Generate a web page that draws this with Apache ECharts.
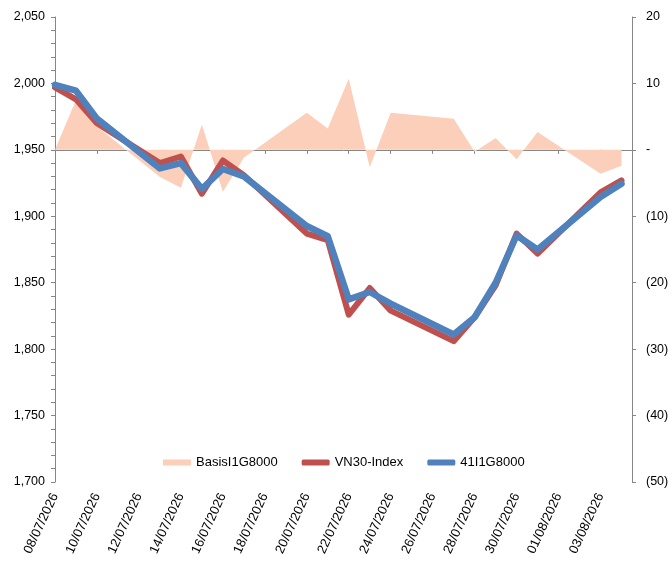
<!DOCTYPE html>
<html>
<head>
<meta charset="utf-8">
<script src="https://cdn.jsdelivr.net/npm/echarts@6/dist/echarts.min.js"></script>
<style>
  html, body { margin: 0; padding: 0; background: #fff; }
  #chart { width: 672px; height: 562px; }
</style>
</head>
<body>
<div id="chart"></div>
<script>
// trading days shown on the chart
var dates = ['08/07/2026', '09/07/2026', '10/07/2026', '13/07/2026', '14/07/2026',
  '15/07/2026', '16/07/2026', '17/07/2026', '20/07/2026', '21/07/2026',
  '22/07/2026', '23/07/2026', '24/07/2026', '27/07/2026', '28/07/2026',
  '29/07/2026', '30/07/2026', '31/07/2026', '03/08/2026', '04/08/2026']

// basis (right axis)
var basis = [0, 7.5, 3.5, -4.1, -5.7, 3.8, -6.3, -1.2, 5.6, 3.2,
  10.7, -2.6, 5.6, 4.7, -0.3, 1.8, -1.4, 2.7, -3.6, -2.4]

// VN30-Index (left axis)
var vn30 = [1997, 1988, 1970, 1940, 1945, 1917, 1942, 1931, 1887, 1882,
  1826, 1846, 1829, 1806, 1824, 1848, 1887, 1872, 1918, 1927]

// 41I1G8000 (left axis)
var future = [1999, 1994.5, 1973.5, 1936, 1940, 1920.6, 1935.6, 1930, 1892.7, 1885,
  1837.5, 1843, 1834.3, 1811, 1824, 1850, 1885.5, 1875, 1914.5, 1924.5]

var seriesNames = ['BasisI1G8000', 'VN30-Index', '41I1G8000']
var startDate = '08/07/2026'
var dayMs = 86400000

function toUtc (s) {
  var p = s.split('/')
  return Date.UTC(+p[2], +p[1] - 1, +p[0])
}
function dayOffset (s) {
  return Math.round((toUtc(s) - toUtc(startDate)) / dayMs)
}
function pad (n) { return n < 10 ? '0' + n : '' + n }
function dayLabel (v) {
  if (v !== Math.round(v) || v % 2 !== 0) return ''
  var d = new Date(toUtc(startDate) + v * dayMs)
  return pad(d.getUTCDate()) + '/' + pad(d.getUTCMonth() + 1) + '/' + d.getUTCFullYear()
}
function pairs (vals) {
  return dates.map(function (d, i) { return [dayOffset(d), vals[i]] })
}

var font = 'Liberation Sans, Arial, sans-serif'
var axisGray = '#868686'

var chart = echarts.init(document.getElementById('chart'))
chart.setOption({
  animation: false,
  textStyle: { fontFamily: font },
  grid: { left: 55, right: 40, top: 17, bottom: 80 },
  legend: {
    left: 163,
    top: 456,
    padding: 0,
    itemWidth: 28,
    itemHeight: 6,
    itemGap: 24,
    textStyle: { fontSize: 13, color: '#000', fontFamily: font },
    data: [
      { name: seriesNames[0], icon: 'rect', itemStyle: { color: '#FBCFB9' } },
      { name: seriesNames[1], icon: 'roundRect', itemStyle: { color: '#C0504D' } },
      { name: seriesNames[2], icon: 'roundRect', itemStyle: { color: '#4F81BD' } }
    ]
  },
  xAxis: {
    type: 'value',
    min: 0,
    max: 27.5,
    interval: 2,
    splitLine: { show: false },
    axisLine: { show: true, lineStyle: { color: axisGray } },
    axisTick: { show: true, length: 4, lineStyle: { color: axisGray } },
    axisLabel: {
      rotate: 65,
      margin: 12,
      fontSize: 13,
      color: '#000',
      showMaxLabel: false,
      formatter: dayLabel
    }
  },
  yAxis: [
    {
      type: 'value',
      min: 1700,
      max: 2050,
      interval: 50,
      splitLine: { show: false },
      axisLine: { show: true, lineStyle: { color: axisGray } },
      axisTick: { show: true, length: 4, lineStyle: { color: axisGray } },
      minorTick: { show: true, splitNumber: 5, length: 4, lineStyle: { color: axisGray } },
      axisLabel: {
        fontSize: 12.5,
        color: '#000',
        margin: 10,
        formatter: function (v) { return v.toLocaleString('en-US') }
      }
    },
    {
      type: 'value',
      min: -50,
      max: 20,
      interval: 10,
      position: 'right',
      splitLine: { show: false },
      axisLine: { show: true, lineStyle: { color: axisGray } },
      axisTick: { show: true, length: 4, lineStyle: { color: axisGray } },
      axisLabel: {
        fontSize: 12.5,
        color: '#000',
        margin: 14,
        formatter: function (v) {
          if (v === 0) return '-'
          return v < 0 ? '(' + (-v) + ')' : '' + v
        }
      }
    }
  ],
  series: [
    {
      name: seriesNames[0],
      type: 'line',
      yAxisIndex: 1,
      symbol: 'none',
      color: '#FBCFB9',
      lineStyle: { width: 0 },
      areaStyle: { color: '#FBCFB9', opacity: 1, origin: 0 },
      data: pairs(basis)
    },
    {
      name: seriesNames[1],
      type: 'line',
      symbol: 'none',
      color: '#C0504D',
      lineStyle: { width: 6, color: '#C0504D', join: 'round', cap: 'round' },
      data: pairs(vn30)
    },
    {
      name: seriesNames[2],
      type: 'line',
      symbol: 'none',
      color: '#4F81BD',
      lineStyle: { width: 6.5, color: '#4F81BD', join: 'round', cap: 'round' },
      data: pairs(future)
    }
  ]
})
</script>
</body>
</html>
